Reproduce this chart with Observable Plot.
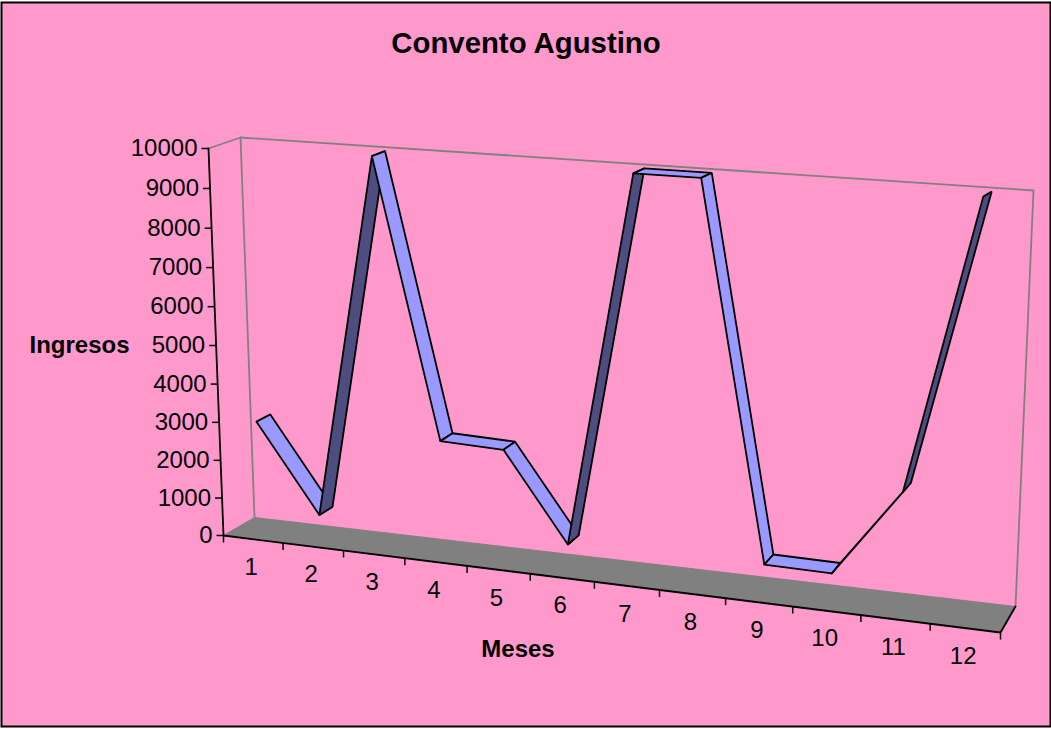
<!DOCTYPE html>
<html><head><meta charset="utf-8">
<script src="https://cdn.jsdelivr.net/npm/d3@7"></script>
<script src="https://cdn.jsdelivr.net/npm/@observablehq/plot@0.6"></script>
<style>html,body{margin:0;padding:0;background:#fff}svg{display:block}</style>
</head><body><div id="chart"></div>
<script>
const titleText = "Convento Agustino";
const xTitle = "Meses";
const yTitle = "Ingresos";
const months = [1,2,3,4,5,6,7,8,9,10,11,12];
const ingresos = [3000,720,10000,3000,2950,720,10000,10000,800,780,2950,10000];
const yTicks = [0,1000,2000,3000,4000,5000,6000,7000,8000,9000,10000];

const W = 1051, H = 729;
// perspective box of the 3D chart: front/back × left/right × bottom/top
const box = {
  fLB:[223,535], fLT:[208,148], fRB:[1000,632], fRT:[1015,201],
  bLB:[254,517], bLT:[240,137], bRB:[1015,606], bRT:[1033,190]
};
const warp = (t,w) => t/(t+w*(1-t));
function project(month, value, depth){
  const u = warp((month-0.5)/12, 1.095), v = warp(value/10000, 1.037), d = depth;
  const mix = (a,b,t)=>[a[0]+(b[0]-a[0])*t, a[1]+(b[1]-a[1])*t];
  const f = mix(mix(box.fLB,box.fRB,u), mix(box.fLT,box.fRT,u), v);
  const b = mix(mix(box.bLB,box.bRB,u), mix(box.bLT,box.bRT,u), v);
  const p = mix(f,b,d);
  return {x:p[0], y:p[1]};
}
const near = 0.24, far = 0.69;
const LIGHT="#9999FF", DARK="#4D4D80", GREY="#808080", PINK="#FF99CC";
const poly = pts => [...pts, pts[0]];

const segments = months.slice(0,-1).map((m,i)=>{
  const a=ingresos[i], b=ingresos[i+1], n=months[i+1];
  return {
    fill: b>a && n!==11 ? DARK : LIGHT,
    pts: poly([project(m,a,near),project(m,a,far),project(n,b,far),project(n,b,near)])
  };
});
const floor = poly([project(.5,0,0),project(12.5,0,0),project(12.5,0,1),project(.5,0,1)]);
const wall = [project(.5,10000,0),project(.5,10000,1),project(12.5,10000,1),project(12.5,0,1)];
const wallLeft = [project(.5,10000,1),project(.5,0,1)];
const xEdges = [0.5,...months.map(m=>m+.5)];
const font = "Liberation Sans, Arial, sans-serif";
const px = d => project(d,0,0), py = d => project(.5,d,0);

const chart = Plot.plot({
  width:W, height:H, margin:0,
  x:{type:"linear",domain:[0,W],range:[0,W],axis:null},
  y:{type:"linear",domain:[0,H],range:[0,H],axis:null},
  style:{background:"#fff",fontFamily:font},
  marks:[
    Plot.frame({fill:PINK,stroke:"#000",strokeWidth:2,insetTop:2,insetBottom:3,insetLeft:1,insetRight:1}),
    Plot.line(wall,{x:"x",y:"y",stroke:GREY,strokeWidth:1.8}),
    Plot.line(wallLeft,{x:"x",y:"y",stroke:GREY,strokeWidth:1.8}),
    Plot.line(floor,{x:"x",y:"y",fill:GREY,stroke:GREY,strokeWidth:1}),
    Plot.line([project(12.5,0,1),project(12.5,0,0),project(.5,0,0),project(.5,10000,0)],{x:"x",y:"y",stroke:"#000",strokeWidth:1.8}),
    ...segments.map(s=>Plot.line(s.pts,{x:"x",y:"y",fill:s.fill,stroke:"#000",strokeWidth:1.8,strokeLinejoin:"miter"})),
    Plot.link(xEdges,{x1:d=>px(d).x,x2:d=>px(d).x,y1:d=>px(d).y,y2:d=>px(d).y+7,stroke:"#000",strokeWidth:1.5}),
    Plot.link(yTicks,{y1:d=>py(d).y,y2:d=>py(d).y,x1:d=>py(d).x-7,x2:d=>py(d).x,stroke:"#000",strokeWidth:1.5}),
    Plot.text(yTicks,{x:d=>py(d).x-11,y:d=>py(d).y,text:d=>String(d),textAnchor:"end",fontSize:24,fill:"#000"}),
    Plot.text(months,{x:d=>px(d).x-2,y:d=>px(d).y+28,text:d=>String(d),fontSize:24,fill:"#000"}),
    Plot.text([titleText],{frameAnchor:"top",dy:32,text:d=>d,fontSize:29.33,fontWeight:"bold",fill:"#000"}),
    Plot.text([yTitle],{frameAnchor:"left",dx:79,dy:-20,textAnchor:"middle",text:d=>d,fontSize:24,fontWeight:"bold",fill:"#000"}),
    Plot.text([xTitle],{frameAnchor:"bottom",dx:-8,dy:-73,text:d=>d,fontSize:24,fontWeight:"bold",fill:"#000"})
  ]
});
document.getElementById("chart").append(chart);
</script></body></html>
